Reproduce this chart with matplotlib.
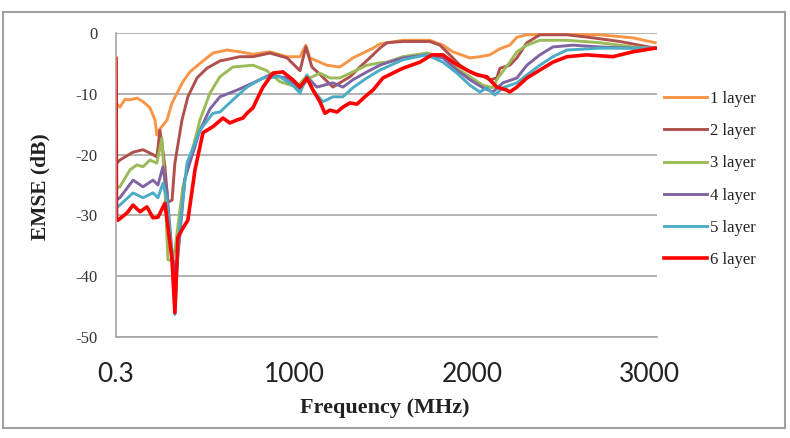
import matplotlib
matplotlib.use("Agg")
import matplotlib.pyplot as plt
from matplotlib.patches import Rectangle

# === Data ===
labels = ['1 layer', '2 layer', '3 layer', '4 layer', '5 layer', '6 layer']
colors = ['#F79646', '#B0504C', '#9BBB59', '#8064A2', '#4BACC6', '#FF0000']

f1 = [0.3, 22, 51, 79, 118, 152, 191, 219, 230, 247, 258, 287, 315, 343, 376, 416, 472, 545, 624, 697,
      770, 865, 961, 1034, 1067, 1090, 1185, 1258, 1298, 1331, 1388, 1444, 1483, 1612, 1764, 1837, 1893,
      1989, 2045, 2101, 2157, 2213, 2253, 2309, 2494, 2719, 2904, 3030]
v1 = [-11.5, -12.2, -10.9, -11.0, -10.7, -11.3, -12.3, -14.3, -16.8, -15.8, -15.4, -14.3, -11.5, -9.9, -8.0,
      -6.4, -5.0, -3.3, -2.8, -3.1, -3.5, -3.1, -3.9, -3.9, -2.0, -4.1, -5.3, -5.6, -4.8, -4.1, -3.3, -2.5,
      -1.8, -1.2, -1.2, -2.0, -3.1, -4.1, -3.9, -3.6, -2.6, -2.0, -0.7, -0.3, -0.2, -0.3, -0.8, -1.6]

f2 = [0.3, 22, 96, 152, 208, 230, 247, 264, 275, 292, 315, 331, 371, 404, 455, 511, 584, 697, 770, 865,
      961, 1034, 1067, 1101, 1146, 1219, 1258, 1315, 1371, 1444, 1483, 1522, 1612, 1764, 1820, 1876, 1933,
      1989, 2045, 2101, 2140, 2157, 2213, 2253, 2309, 2382, 2534, 2680, 2831, 3030]
v2 = [-21.5, -20.9, -19.6, -19.2, -20.0, -20.4, -16.0, -19.5, -22.0, -27.8, -27.5, -21.4, -14.3, -10.5, -7.4,
      -5.8, -4.6, -3.9, -3.9, -3.3, -4.1, -6.2, -2.3, -5.6, -6.8, -8.9, -8.2, -7.2, -5.6, -3.6, -2.5, -1.6,
      -1.4, -1.4, -2.0, -3.6, -5.3, -6.4, -6.9, -7.7, -7.4, -5.8, -5.3, -4.1, -1.6, -0.3, -0.3, -0.8, -1.4, -2.5]

f3 = [0.3, 22, 79, 118, 152, 191, 230, 258, 275, 292, 315, 331, 376, 433, 472, 528, 584, 657, 770, 848,
      921, 1017, 1073, 1090, 1146, 1202, 1258, 1331, 1410, 1483, 1522, 1612, 1747, 1837, 1916, 1989, 2062,
      2118, 2146, 2213, 2253, 2309, 2382, 2534, 2719, 2904, 3030]
v3 = [-25.5, -25.3, -22.5, -21.7, -22.0, -20.9, -21.4, -17.3, -25.3, -37.3, -37.5, -35.7, -25.3, -18.8, -14.3,
      -9.9, -7.2, -5.6, -5.3, -6.2, -8.0, -8.9, -7.0, -7.4, -6.6, -7.4, -7.4, -6.4, -5.3, -4.9, -4.8, -3.9,
      -3.3, -3.9, -5.8, -7.2, -8.6, -9.0, -7.4, -4.8, -3.1, -2.0, -1.2, -1.2, -1.6, -2.3, -2.5]

f4 = [0.3, 22, 96, 152, 208, 236, 264, 287, 315, 337, 360, 387, 472, 528, 584, 680, 770, 865, 961, 1034,
      1079, 1129, 1219, 1275, 1331, 1410, 1483, 1522, 1612, 1747, 1837, 1916, 1989, 2062, 2118, 2174, 2253,
      2309, 2382, 2455, 2567, 2719, 2904, 3030]
v4 = [-27.5, -27.1, -24.2, -25.3, -24.2, -25.0, -22.0, -26.3, -36.2, -40.0, -33.0, -24.0, -16.0, -12.5, -10.5,
      -9.4, -8.2, -6.9, -7.4, -9.4, -7.4, -8.9, -8.2, -8.9, -7.7, -6.4, -5.3, -4.9, -4.1, -3.6, -4.1, -6.1,
      -7.7, -9.0, -9.7, -8.2, -7.4, -5.3, -3.6, -2.3, -2.0, -2.3, -2.5, -2.5]

f5 = [0.3, 22, 96, 152, 208, 236, 264, 287, 315, 331, 354, 399, 472, 545, 584, 657, 736, 826, 921, 994,
      1034, 1073, 1107, 1163, 1219, 1275, 1331, 1410, 1483, 1522, 1612, 1747, 1837, 1916, 1989, 2045, 2084,
      2129, 2174, 2253, 2309, 2382, 2455, 2534, 2719, 2904, 3030]
v5 = [-28.8, -28.3, -26.3, -27.1, -26.3, -27.1, -24.7, -27.5, -37.0, -46.3, -33.0, -21.4, -16.0, -13.2, -13.0,
      -11.0, -8.9, -7.4, -7.2, -8.6, -9.9, -6.9, -9.4, -11.3, -10.5, -10.5, -9.0, -7.4, -6.1, -5.6, -4.4,
      -3.6, -4.8, -6.6, -8.6, -9.7, -9.0, -10.2, -9.0, -8.2, -6.9, -5.3, -3.9, -2.8, -2.5, -2.5, -2.5]

f6 = [0.3, 3, 11, 62, 96, 135, 174, 208, 236, 275, 292, 315, 331, 348, 376, 404, 444, 489, 545, 601, 640,
      680, 713, 736, 770, 809, 826, 882, 938, 994, 1034, 1073, 1107, 1146, 1174, 1202, 1242, 1275, 1315,
      1354, 1410, 1444, 1500, 1612, 1708, 1775, 1837, 1893, 1972, 2028, 2084, 2140, 2197, 2213, 2253, 2309,
      2382, 2455, 2534, 2646, 2792, 2904, 3030]
v6 = [-4.2, -30.5, -30.8, -29.6, -28.3, -29.4, -28.6, -30.4, -30.3, -28.0, -31.9, -37.3, -46.0, -33.6, -32.1,
      -30.8, -22.5, -16.4, -15.4, -14.0, -14.8, -14.3, -14.0, -13.2, -12.3, -9.9, -8.9, -6.6, -6.4, -7.7,
      -8.9, -7.4, -9.4, -11.3, -13.2, -12.7, -13.0, -12.2, -11.5, -11.7, -10.2, -9.4, -7.4, -5.8, -4.8,
      -3.6, -3.6, -4.8, -6.1, -6.9, -7.2, -8.9, -9.4, -9.7, -8.9, -7.4, -6.1, -4.8, -3.9, -3.6, -3.9, -3.1, -2.5]

freqs = [f1, f2, f3, f4, f5, f6]
vals = [v1, v2, v3, v4, v5, v6]

xticks = [0.3, 1000, 2000, 3000]
xticklabels = ['0.3', '1000', '2000', '3000']
yticks = [0, -10, -20, -30, -40, -50]

# === Plot ===
fig = plt.figure(figsize=(7.9, 4.38), dpi=100)
ax = fig.add_axes([0.1468, 0.2306, 0.6848, 0.6941])

for f, v, c, lab in zip(freqs, vals, colors, labels):
    lw = 2.6 if lab == '6 layer' else 2.1
    ax.plot(f, v, color=c, lw=lw, label=lab, solid_joinstyle='round')

ax.set_xlim(0, 3040)
ax.set_ylim(-50, 0)
ax.set_yticks(yticks)
ax.set_yticklabels([str(t) for t in yticks], family='Liberation Serif', fontsize=12, color='#333333')
ax.set_xticks(xticks)
ax.set_xticklabels(xticklabels, family='Lato', fontsize=19, color='#222222')
ax.tick_params(axis='y', length=0, pad=13)
ax.tick_params(axis='x', length=0, pad=18)
ax.yaxis.grid(True, color='#a6a6a6', lw=1.2)
ax.set_axisbelow(True)
for s in ['top', 'right']:
    ax.spines[s].set_visible(False)
for s in ['left', 'bottom']:
    ax.spines[s].set_color('#a6a6a6')
    ax.spines[s].set_linewidth(1.2)

fig.text(40 / 790, 1 - 187 / 438, 'EMSE (dB)', rotation=90, ha='center', va='center',
         family='Liberation Serif', fontweight='bold', fontsize=15.5, color='#222222')
fig.text(385 / 790, 1 - 408 / 438, 'Frequency (MHz)', ha='center', va='center',
         family='Liberation Serif', fontweight='bold', fontsize=16, color='#222222')

leg = fig.legend(loc='upper left', bbox_to_anchor=(664 / 790, 1 - 91 / 438), frameon=False,
                 prop={'family': 'Liberation Serif', 'size': 12}, handlelength=2.6,
                 handletextpad=0.15, labelspacing=0.97, borderpad=0, borderaxespad=0)
for t in leg.get_texts():
    t.set_color('#222222')

fig.patches.append(Rectangle((3 / 790, 1 - 428 / 438), 782 / 790, 416 / 438, transform=fig.transFigure,
                             fill=False, edgecolor='#a0a0a0', lw=1.5))

fig.savefig('out.png', dpi=100)
